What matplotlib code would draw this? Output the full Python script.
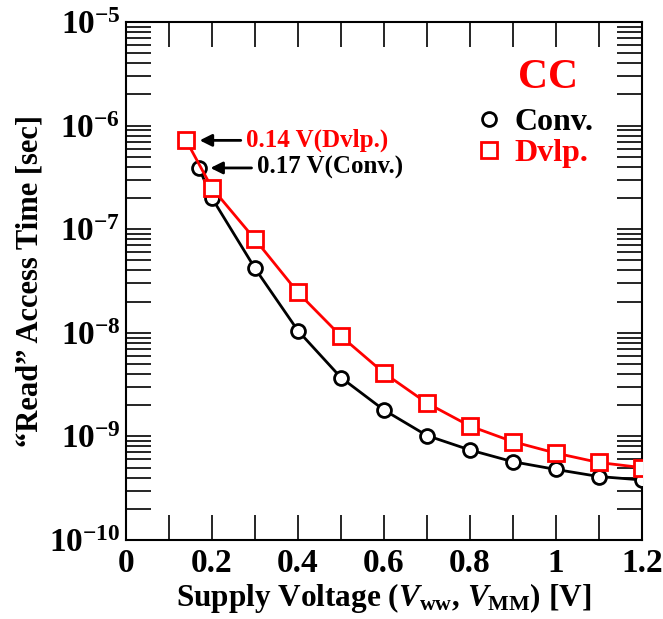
import matplotlib as mpl
mpl.use('Agg')
import matplotlib.pyplot as plt
from matplotlib import ticker
from matplotlib.lines import Line2D
import numpy as np

# data
conv_v = [0.17, 0.2, 0.3, 0.4, 0.5, 0.6, 0.7, 0.8, 0.9, 1.0, 1.1, 1.2]
conv_t = [3.9e-7, 2.0e-7, 4.2e-8, 1.05e-8, 3.7e-9, 1.8e-9, 1.02e-9, 7.4e-10, 5.7e-10, 4.8e-10, 4.1e-10, 3.8e-10]
dvlp_v = [0.14, 0.2, 0.3, 0.4, 0.5, 0.6, 0.7, 0.8, 0.9, 1.0, 1.1, 1.2]
dvlp_t = [7.2e-7, 2.5e-7, 8.0e-8, 2.45e-8, 9.3e-9, 4.1e-9, 2.1e-9, 1.26e-9, 8.9e-10, 6.9e-10, 5.6e-10, 5.0e-10]
decades = [1e-10, 1e-9, 1e-8, 1e-7, 1e-6, 1e-5]

plt.rcParams['font.family'] = 'Liberation Serif'
plt.rcParams['font.weight'] = 'bold'
plt.rcParams['mathtext.fontset'] = 'custom'
plt.rcParams['mathtext.rm'] = 'Liberation Serif:bold'
plt.rcParams['mathtext.bf'] = 'Liberation Serif:bold'
plt.rcParams['mathtext.it'] = 'Liberation Serif:italic:bold'

fig = plt.figure(figsize=(6.63, 6.19), dpi=100)
ax = fig.add_axes([0.190, 0.1276, 0.778, 0.8369])

ax.plot(conv_v, conv_t, '-o', color='black', linewidth=2.0, markersize=10,
        markerfacecolor='white', markeredgewidth=2.0, zorder=3)
ax.plot(dvlp_v, dvlp_t, '-s', color='#ff0000', linewidth=2.0, markersize=11,
        markerfacecolor='white', markeredgewidth=2.0, zorder=4)

ax.set_yscale('log')
ax.set_xlim(0, 1.2)
ax.set_ylim(1e-10, 1e-5)

ax.xaxis.set_major_locator(ticker.MultipleLocator(0.2))
ax.xaxis.set_minor_locator(ticker.MultipleLocator(0.1))
ax.xaxis.set_major_formatter(ticker.FuncFormatter(lambda v, p: '%g' % round(v, 1)))
ax.yaxis.set_major_locator(ticker.FixedLocator(decades))
ax.yaxis.set_minor_locator(ticker.FixedLocator(
    [d * k for d in decades[:-1] for k in range(2, 10)]))
ax.yaxis.set_minor_formatter(ticker.NullFormatter())
ax.yaxis.set_major_formatter(ticker.FuncFormatter(
    lambda v, p: r'$\mathbf{10^{%d}}$' % int(round(np.log10(v)))))

ax.tick_params(which='both', direction='in', length=18, width=1.2,
               top=True, right=True)
ax.tick_params(axis='x', which='major', labelsize=24, pad=6)
ax.tick_params(axis='y', which='major', labelsize=24, pad=4)
for s in ax.spines.values():
    s.set_linewidth(1.5)

ax.set_xlabel(r'Supply Voltage ($V_{\mathrm{ww}}$, $V_{\mathrm{MM}}$) [V]',
              fontsize=22.5, fontweight='bold', labelpad=1)
ax.set_ylabel('\u201cRead\u201d Access Time [sec]', fontsize=22,
              fontweight='bold', labelpad=3)

# annotations
ax.annotate('0.14 V(Dvlp.)', xy=(0.165, 7.2e-7), xytext=(0.28, 7.2e-7),
            color='#ff0000', fontsize=18, fontweight='bold', va='center',
            arrowprops=dict(arrowstyle='-|>', color='black', lw=2, mutation_scale=18))
ax.annotate('0.17 V(Conv.)', xy=(0.19, 3.9e-7), xytext=(0.305, 3.9e-7),
            color='black', fontsize=18, fontweight='bold', va='center',
            arrowprops=dict(arrowstyle='-|>', color='black', lw=2, mutation_scale=18))

# legend
ax.text(0.818, 0.892, 'CC', transform=ax.transAxes, color='#ff0000',
        fontsize=30, fontweight='bold', ha='center', va='center')
handles = [Line2D([], [], linestyle='none', marker='o', color='black',
                  markerfacecolor='white', markersize=10, markeredgewidth=2),
           Line2D([], [], linestyle='none', marker='s', color='#ff0000',
                  markerfacecolor='white', markersize=11, markeredgewidth=2)]
lgd = ax.legend(handles, ['Conv.', 'Dvlp.'], loc='upper left',
                bbox_to_anchor=(0.661, 0.847), frameon=False, fontsize=23,
                handletextpad=0.3, handlelength=1.0, labelspacing=0.05,
                borderaxespad=0, borderpad=0.2,
                labelcolor=['black', '#ff0000'])

plt.savefig('out.png', dpi=100)
